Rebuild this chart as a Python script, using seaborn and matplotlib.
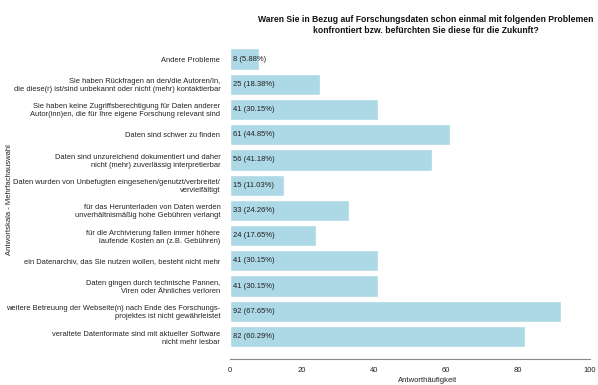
import matplotlib
matplotlib.use("Agg")
import matplotlib.pyplot as plt
import seaborn as sns
import pandas as pd

categories = [
    "Andere Probleme",
    "Sie haben Rückfragen an den/die Autoren/In,\ndie diese(r) ist/sind unbekannt oder nicht (mehr) kontaktierbar",
    "Sie haben keine Zugriffsberechtigung für Daten anderer\nAutor(inn)en, die für Ihre eigene Forschung relevant sind",
    "Daten sind schwer zu finden",
    "Daten sind unzureichend dokumentiert und daher\nnicht (mehr) zuverlässig interpretierbar",
    "Daten wurden von Unbefugten eingesehen/genutzt/verbreitet/\nvervielfältigt",
    "für das Herunterladen von Daten werden\nunverhältnismäßig hohe Gebühren verlangt",
    "für die Archivierung fallen immer höhere\nlaufende Kosten an (z.B. Gebühren)",
    "ein Datenarchiv, das Sie nutzen wollen, besteht nicht mehr",
    "Daten gingen durch technische Pannen,\nViren oder Ähnliches verloren",
    "weitere Betreuung der Webseite(n) nach Ende des Forschungs-\nprojektes ist nicht gewährleistet",
    "veraltete Datenformate sind mit aktueller Software\nnicht mehr lesbar",
]
counts = [8, 25, 41, 61, 56, 15, 33, 24, 41, 41, 92, 82]
percents = ["5.88%", "18.38%", "30.15%", "44.85%", "41.18%", "11.03%",
            "24.26%", "17.65%", "30.15%", "30.15%", "67.65%", "60.29%"]
xticks = [0, 20, 40, 60, 80, 100]

title = ("Waren Sie in Bezug auf Forschungsdaten schon einmal mit folgenden Problemen\n"
         "konfrontiert bzw. befürchten Sie diese für die Zukunft?")
ylabel = "Antwortskala - Mehrfachauswahl"
xlabel = "Antworthäufigkeit"

sns.set_theme(style="white")
plt.rcParams["font.family"] = ["Liberation Sans", "DejaVu Sans"]

df = pd.DataFrame({"kategorie": categories, "anzahl": counts})

W, H = 598, 385
fig = plt.figure(figsize=(W / 100, H / 100), dpi=100)
ax = fig.add_axes([230 / W, 1 - 359 / H, 360 / W, (359 - 46.4) / H])

sns.barplot(data=df, x="anzahl", y="kategorie", orient="h", color="#add8e6",
            saturation=1, width=0.84, ax=ax)

ax.set_xlim(0, 100)
ax.set_ylim(11.89, -0.5)
ax.set_xticks(xticks)
ax.set_xticklabels([str(t) for t in xticks], fontsize=5.5, color="#222222")
ax.tick_params(axis="x", direction="out", length=4, width=0.8, color="#888888", pad=2)
ax.tick_params(axis="y", length=0, pad=7, labelsize=5.4, labelcolor="#222222")
ax.set_xlabel("")
ax.set_ylabel("")
for s in ["top", "right", "left"]:
    ax.spines[s].set_visible(False)
ax.spines["bottom"].set_color("#888888")
ax.spines["bottom"].set_linewidth(0.8)

for i, (c, p) in enumerate(zip(counts, percents)):
    ax.text(0.8, i, f"{c} ({p})", va="center", ha="left", fontsize=5.5, color="#222222")

fig.text(426 / W, 1 - 14.5 / H, title, ha="center", va="top", fontsize=6.2,
         fontweight="bold", color="#111111", linespacing=1.3)
fig.text(10 / W, 1 - 200 / H, ylabel, rotation=90, ha="center", va="center",
         fontsize=5.5, color="#222222")
fig.text(428 / W, 1 - 377 / H, xlabel, ha="center", va="top", fontsize=5.5, color="#222222")

fig.savefig("out.png", dpi=100)
